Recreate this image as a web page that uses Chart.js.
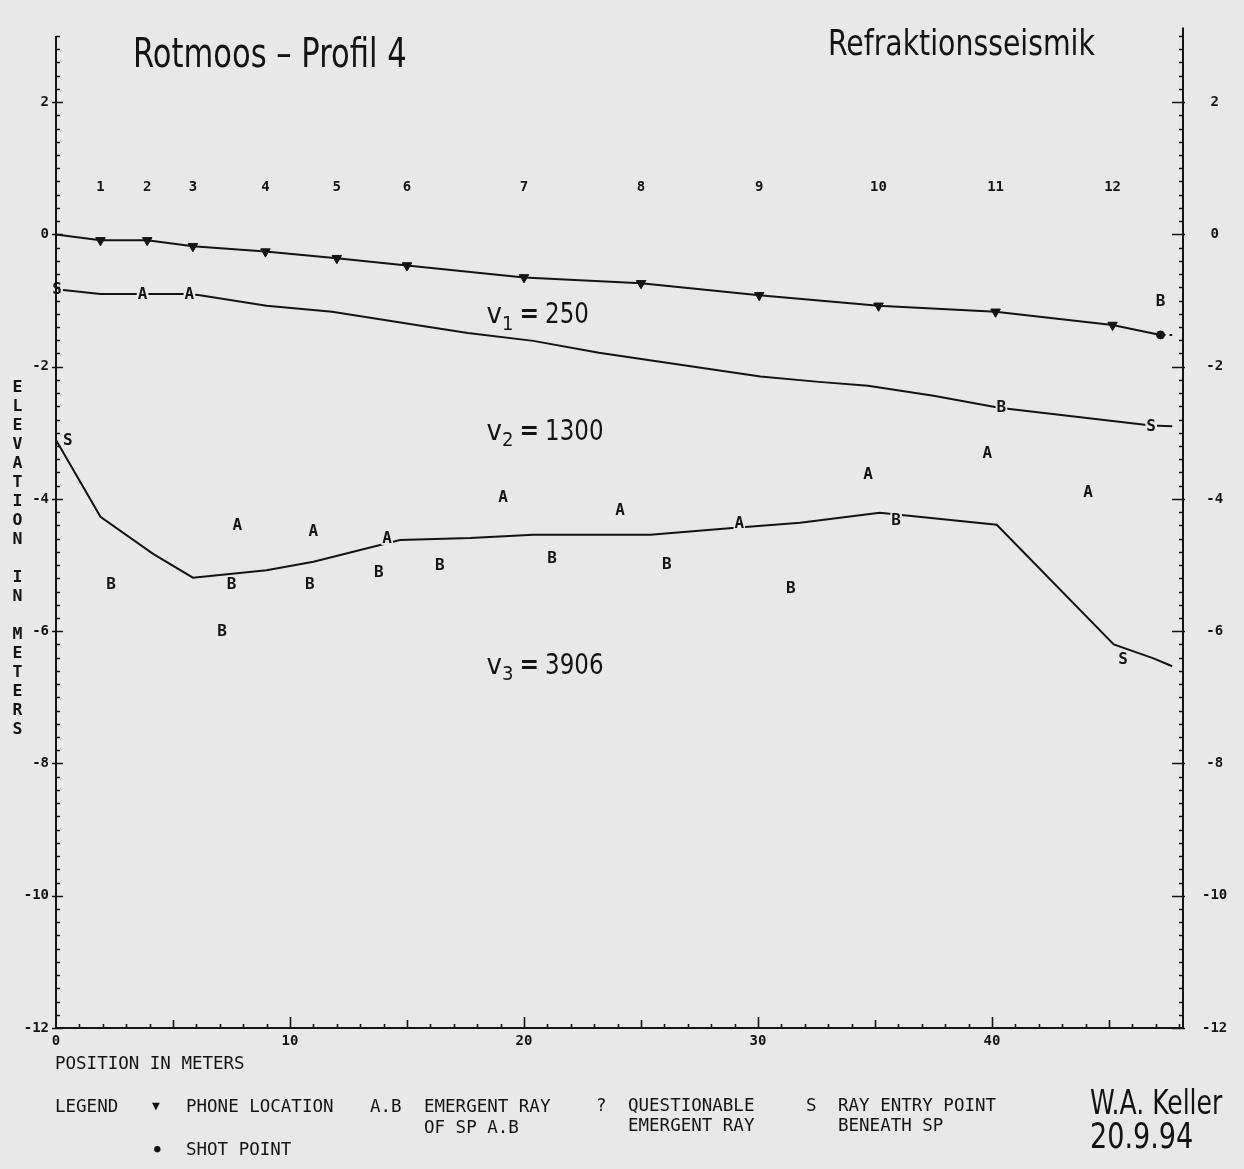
<!DOCTYPE html>
<html lang="de">
<head>
<meta charset="utf-8">
<title>Rotmoos – Profil 4</title>
<script src="https://cdn.jsdelivr.net/npm/chart.js@4.4.1/dist/chart.umd.min.js"></script>
<style>
  html, body { margin: 0; padding: 0; background: #e8e8e8; }
  #blatt { position: relative; width: 1244px; height: 1169px; overflow: hidden; }
  #blatt canvas { position: absolute; left: 0; top: 0; }
  .hand { position: absolute; color: #141414; white-space: nowrap; line-height: 1; transform-origin: 0 0;
          font-family: 'Liberation Sans Narrow', 'DejaVu Sans Condensed', 'Liberation Sans', sans-serif; }
  .plotter { position: absolute; color: #141414; white-space: nowrap; line-height: 1;
             font-family: 'DejaVu Sans Mono', monospace; font-size: 17.5px; }
  .senkrecht { writing-mode: vertical-lr; text-orientation: upright; font-size: 16.5px; line-height: 20px; font-weight: bold; }
</style>
</head>
<body>
<div id="blatt">
  <canvas id="profil" width="1244" height="1169"></canvas>

  <div class="hand" style="left:133px; top:33px; font-size:40px; transform:scaleX(0.85);">Rotmoos – Profil 4</div>
  <div class="hand" style="left:828px; top:26px; font-size:35px; transform:scaleX(0.9);">Refraktionsseismik</div>

  <div class="plotter senkrecht" style="left:7px; top:377px;">ELEVATION IN METERS</div>

  <div class="plotter" style="left:55px; top:1055px;">POSITION IN METERS</div>

  <!-- Legende -->
  <div class="plotter" style="left:55px; top:1098px;">LEGEND</div>
  <div class="plotter" style="left:152px; top:1099px; font-size:13px;">▼</div>
  <div class="plotter" style="left:186px; top:1098px;">PHONE LOCATION</div>
  <div class="plotter" style="left:370px; top:1098px;">A.B</div>
  <div class="plotter" style="left:424px; top:1098px;">EMERGENT RAY</div>
  <div class="plotter" style="left:424px; top:1119px;">OF SP A.B</div>
  <div class="plotter" style="left:596px; top:1097px;">?</div>
  <div class="plotter" style="left:628px; top:1097px;">QUESTIONABLE</div>
  <div class="plotter" style="left:628px; top:1117px;">EMERGENT RAY</div>
  <div class="plotter" style="left:806px; top:1097px;">S</div>
  <div class="plotter" style="left:838px; top:1097px;">RAY ENTRY POINT</div>
  <div class="plotter" style="left:838px; top:1117px;">BENEATH SP</div>
  <div class="plotter" style="left:154px; top:1143px; font-size:11px;">●</div>
  <div class="plotter" style="left:186px; top:1141px;">SHOT POINT</div>

  <div class="hand" style="left:1090px; top:1085px; font-size:34px; transform:scaleX(0.82);">W.A. Keller</div>
  <div class="hand" style="left:1090px; top:1119px; font-size:35px; transform:scaleX(0.86);">20.9.94</div>
</div>

<script>
// Farben und Schriften wie auf dem Plotterblatt
const TINTE = '#141414';
const PAPIER = '#e8e8e8';
const MONO = "'DejaVu Sans Mono', monospace";
const HAND = "'Liberation Sans Narrow', 'DejaVu Sans Condensed', 'Liberation Sans', sans-serif";

// --- DATEN (Position in m, Höhe in m) ---

// Geländeoberfläche mit Geophonen, Schusspunkt am Ende
const oberflaecheX = [0, 1.9, 3.9, 5.85, 8.95, 12.0, 15.0, 20.0, 25.0, 30.05, 35.15, 40.15, 45.15, 47.2, 47.7];
const oberflaecheY = [0, -0.09, -0.09, -0.18, -0.26, -0.36, -0.47, -0.65, -0.74, -0.92, -1.08, -1.17, -1.37, -1.52, -1.52];

// Geophone (Phone Location) und ihre Nummern
const geophonX = [1.9, 3.9, 5.85, 8.95, 12.0, 15.0, 20.0, 25.0, 30.05, 35.15, 40.15, 45.15];
const geophonY = [-0.09, -0.09, -0.18, -0.26, -0.36, -0.47, -0.65, -0.74, -0.92, -1.08, -1.17, -1.37];
const geophonNr = ['1', '2', '3', '4', '5', '6', '7', '8', '9', '10', '11', '12'];
const nummernHoehe = 0.72;

// Schusspunkt
const schussX = [47.2];
const schussY = [-1.52];

// Grenze v1 / v2
const grenze1X = [0.3, 1.9, 3.7, 5.7, 6.15, 9.0, 11.8, 15.6, 17.6, 20.4, 23.2, 26.1, 30.1, 32.6, 34.7, 37.5, 40.3, 46.8, 47.7];
const grenze1Y = [-0.84, -0.90, -0.90, -0.90, -0.92, -1.08, -1.17, -1.38, -1.49, -1.61, -1.79, -1.94, -2.15, -2.23, -2.29, -2.44, -2.62, -2.89, -2.90];

// Grenze v2 / v3
const grenze2X = [0, 1.9, 4.15, 5.85, 9.0, 11.0, 14.7, 17.7, 20.4, 25.4, 28.9, 31.8, 35.2, 40.2, 45.2, 46.9, 47.7];
const grenze2Y = [-3.11, -4.27, -4.83, -5.19, -5.08, -4.95, -4.62, -4.59, -4.54, -4.54, -4.44, -4.36, -4.21, -4.39, -6.20, -6.41, -6.53];

// Austretende Strahlen von Schusspunkt A und B, Eintrittspunkte S
const strahlAX = [3.7, 5.7, 7.75, 11.0, 14.15, 19.1, 24.1, 29.2, 34.7, 39.8, 44.1];
const strahlAY = [-0.90, -0.90, -4.39, -4.48, -4.59, -3.97, -4.17, -4.36, -3.62, -3.31, -3.89];
const strahlBX = [2.35, 7.5, 10.85, 13.8, 16.4, 21.2, 26.1, 31.4, 35.9, 40.4, 47.2, 7.1];
const strahlBY = [-5.28, -5.28, -5.28, -5.11, -4.99, -4.89, -4.98, -5.35, -4.32, -2.60, -1.01, -6.0];
const eintrittX = [0.05, 0.5, 46.8, 45.6];
const eintrittY = [-0.83, -3.11, -2.90, -6.42];

// Geschwindigkeiten der Schichten (m/s)
const schichtIndex = ['1', '2', '3'];
const schichtV = ['250', '1300', '3906'];
const schichtX = [18.4, 18.4, 18.4];
const schichtY = [-1.23, -2.99, -6.53];

// Achsen: Beschriftung alle 2 m, Teilstriche alle 0,2 m bzw. 1 m
const xMin = 0, xMax = 48.16;
const yMin = -12, yMax = 3.13;
const xTeilung = 1;
const yTeilung = 0.2;

function punkte(xs, ys) {
    return xs.map((x, i) => ({ x: x, y: ys[i] }));
}

function istHauptwert(v) {
    const r = Math.round(v);
    return Math.abs(v - r) < 1e-6 && r % 2 === 0;
}

function tickText(v) {
    return istHauptwert(v) ? String(Math.round(v)) : null;
}

// Buchstaben und Nummern an den Datenpunkten zeichnen
const beschriftungPlugin = {
    id: 'beschriftung',
    afterDatasetsDraw(chart) {
        const ctx = chart.ctx;
        ctx.save();
        chart.data.datasets.forEach((ds, di) => {
            const meta = chart.getDatasetMeta(di);
            if (ds.buchstabe) {
                ctx.font = (ds.fett ? 'bold ' : '') + ds.schrift + 'px ' + MONO;
                ctx.textAlign = 'center';
                ctx.textBaseline = 'middle';
                meta.data.forEach((p, i) => {
                    const t = Array.isArray(ds.buchstabe) ? ds.buchstabe[i] : ds.buchstabe;
                    if (ds.freistellen) {
                        const w = ctx.measureText(t).width;
                        ctx.fillStyle = PAPIER;
                        ctx.fillRect(p.x - w / 2 - 1, p.y - 7, w + 2, 14);
                    }
                    ctx.fillStyle = TINTE;
                    ctx.fillText(t, p.x, p.y + 1);
                });
            }
            if (ds.geschwindigkeit) {
                ctx.fillStyle = TINTE;
                ctx.textAlign = 'left';
                ctx.textBaseline = 'middle';
                meta.data.forEach((p, i) => {
                    ctx.font = '29px ' + HAND;
                    ctx.fillText('v', p.x, p.y);
                    let w = ctx.measureText('v').width;
                    ctx.font = '20px ' + HAND;
                    ctx.fillText(schichtIndex[i], p.x + w, p.y + 9);
                    w += ctx.measureText(schichtIndex[i]).width;
                    ctx.font = 'bold 26px ' + HAND;
                    ctx.fillText('=', p.x + w + 6, p.y);
                    w += ctx.measureText('=').width + 12;
                    ctx.font = '29px ' + HAND;
                    ctx.save();
                    ctx.translate(p.x + w, p.y);
                    ctx.scale(0.88, 1);
                    ctx.fillText(schichtV[i], 0, 0);
                    ctx.restore();
                });
            }
        });
        ctx.restore();
    }
};

// Achsenlinien mit nach innen zeigenden Teilstrichen
const achsenPlugin = {
    id: 'achsen',
    afterDraw(chart) {
        const { ctx, chartArea: a, scales } = chart;
        const sy = scales.y, sx = scales.x;
        ctx.save();
        ctx.strokeStyle = TINTE;
        ctx.lineWidth = 2;
        ctx.beginPath();
        ctx.moveTo(a.left, sy.getPixelForValue(3.0));
        ctx.lineTo(a.left, a.bottom);
        ctx.lineTo(a.right, a.bottom);
        ctx.lineTo(a.right, a.top);
        ctx.stroke();

        ctx.lineWidth = 1.6;
        ctx.beginPath();
        const nY = Math.floor((sy.max - sy.min) / yTeilung + 1e-6);
        for (let k = 0; k <= nY; k++) {
            const v = sy.min + k * yTeilung;
            const py = Math.round(sy.getPixelForValue(v)) + 0.5;
            const gross = istHauptwert(v);
            if (v <= 3.01) {
                ctx.moveTo(a.left - (gross ? 4 : 0), py);
                ctx.lineTo(a.left + (gross ? 7 : 4), py);
            }
            ctx.moveTo(a.right + (gross ? 2 : 0), py);
            ctx.lineTo(a.right - (gross ? 11 : 4), py);
        }
        const nX = Math.floor((sx.max - sx.min) / xTeilung + 1e-6);
        for (let k = 1; k <= nX; k++) {
            const v = sx.min + k * xTeilung;
            const px = Math.round(sx.getPixelForValue(v)) + 0.5;
            const laenge = v % 10 === 0 ? 11 : (v % 5 === 0 ? 8 : 4);
            ctx.moveTo(px, a.bottom);
            ctx.lineTo(px, a.bottom - laenge);
        }
        ctx.stroke();
        ctx.restore();
    }
};

const tickFont = { family: MONO, size: 14, weight: 'bold' };
const ctx = document.getElementById('profil').getContext('2d');

new Chart(ctx, {
    type: 'scatter',
    data: {
        datasets: [
            {
                // Oberfläche
                type: 'line',
                data: punkte(oberflaecheX, oberflaecheY),
                borderColor: TINTE,
                borderWidth: 2,
                pointRadius: 0,
                tension: 0,
                segment: {
                    borderDash: c => c.p1DataIndex === oberflaecheX.length - 1 ? [5, 4] : undefined
                }
            },
            {
                type: 'line',
                data: punkte(grenze1X, grenze1Y),
                borderColor: TINTE,
                borderWidth: 2,
                pointRadius: 0,
                tension: 0
            },
            {
                type: 'line',
                data: punkte(grenze2X, grenze2Y),
                borderColor: TINTE,
                borderWidth: 2,
                pointRadius: 0,
                tension: 0
            },
            {
                // Geophone
                data: punkte(geophonX, geophonY),
                pointStyle: 'triangle',
                rotation: 180,
                pointRadius: 5.5,
                backgroundColor: TINTE,
                borderColor: TINTE,
                borderWidth: 1
            },
            {
                // Schusspunkt
                data: punkte(schussX, schussY),
                pointStyle: 'circle',
                pointRadius: 4,
                backgroundColor: TINTE,
                borderColor: TINTE
            },
            {
                // Nummern der Geophone
                data: geophonX.map(x => ({ x: x, y: nummernHoehe })),
                pointRadius: 0,
                buchstabe: geophonNr,
                schrift: 14,
                fett: true
            },
            {
                data: punkte(strahlAX, strahlAY),
                pointRadius: 0,
                buchstabe: 'A',
                schrift: 16,
                fett: true,
                freistellen: true
            },
            {
                data: punkte(strahlBX, strahlBY),
                pointRadius: 0,
                buchstabe: 'B',
                schrift: 16,
                fett: true,
                freistellen: true
            },
            {
                data: punkte(eintrittX, eintrittY),
                pointRadius: 0,
                buchstabe: 'S',
                schrift: 16,
                fett: true,
                freistellen: true
            },
            {
                data: punkte(schichtX, schichtY),
                pointRadius: 0,
                geschwindigkeit: true
            }
        ]
    },
    options: {
        responsive: false,
        animation: false,
        events: [],
        layout: { padding: { top: 22 } },
        plugins: {
            legend: { display: false },
            tooltip: { enabled: false }
        },
        scales: {
            x: {
                type: 'linear',
                min: xMin,
                max: xMax,
                afterFit: s => { s.height = 141; },
                grid: { display: false, drawTicks: false },
                border: { display: false },
                ticks: {
                    stepSize: xTeilung,
                    autoSkip: false,
                    maxRotation: 0,
                    padding: 5,
                    color: TINTE,
                    font: tickFont,
                    callback: v => (Math.abs(v % 10) < 1e-6 ? String(Math.round(v)) : null)
                }
            },
            y: {
                type: 'linear',
                position: 'left',
                min: yMin,
                max: yMax,
                afterFit: s => { s.width = 56; },
                grid: { display: false, drawTicks: false },
                border: { display: false },
                ticks: {
                    stepSize: yTeilung,
                    autoSkip: false,
                    padding: 7,
                    color: TINTE,
                    font: tickFont,
                    callback: tickText
                }
            },
            y2: {
                type: 'linear',
                position: 'right',
                min: yMin,
                max: yMax,
                afterFit: s => { s.width = 61; },
                grid: { display: false, drawTicks: false },
                border: { display: false },
                ticks: {
                    stepSize: yTeilung,
                    autoSkip: false,
                    padding: 19,
                    crossAlign: 'center',
                    color: TINTE,
                    font: tickFont,
                    callback: tickText
                }
            }
        }
    },
    plugins: [beschriftungPlugin, achsenPlugin]
});
</script>
</body>
</html>
